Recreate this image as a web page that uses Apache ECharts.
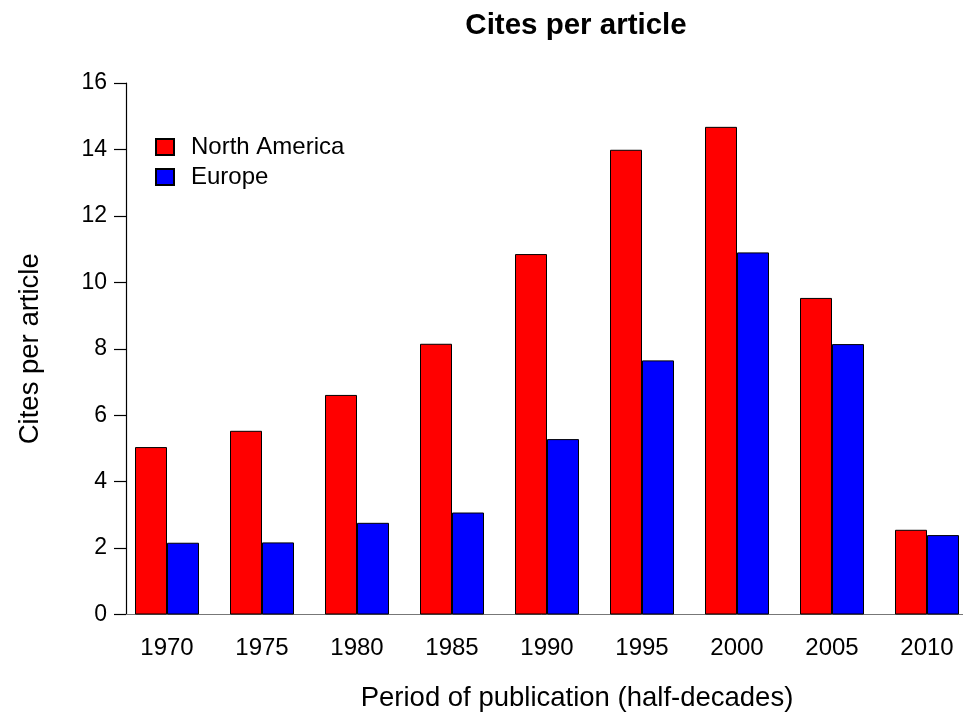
<!DOCTYPE html>
<html>
<head>
<meta charset="utf-8">
<script src="https://cdn.jsdelivr.net/npm/echarts@6/dist/echarts.min.js"></script>
<style>
  body { margin: 0; background: #fff; }
  #chart { width: 963px; height: 718px; }
</style>
</head>
<body>
<div id="chart"></div>
<script>
// half-decades of publication
let periods = ['1970', '1975', '1980', '1985', '1990', '1995', '2000', '2005', '2010']
let northAmerica = [5.04, 5.53, 6.61, 8.15, 10.85, 13.99, 14.68, 9.53, 2.55]
let europe = [2.16, 2.17, 2.76, 3.07, 5.28, 7.65, 10.9, 8.14, 2.39]

let font = 'Liberation Sans, Arial, sans-serif'

let myChart = echarts.init(document.getElementById('chart'))
myChart.setOption({
  animation: false,
  backgroundColor: '#fff',
  title: {
    text: 'Cites per article',
    left: 571,
    top: 6,
    textAlign: 'center',
    textStyle: { fontFamily: font, fontSize: 29.5, fontWeight: 'bold', color: '#000' }
  },
  legend: {
    data: ['North America', 'Europe'],
    orient: 'vertical',
    left: 150,
    top: 130,
    icon: 'rect',
    itemWidth: 18,
    itemHeight: 16,
    itemGap: 6,
    textStyle: { fontFamily: font, fontSize: 24, lineHeight: 24, color: '#000', padding: [0, 0, 0, 12] }
  },
  grid: {
    left: 119.5,
    top: 83,
    width: 855,
    height: 531.5,
    outerBoundsMode: 'none'
  },
  xAxis: {
    type: 'category',
    data: periods,
    boundaryGap: true,
    axisLine: { show: true, lineStyle: { color: '#777', width: 1 } },
    axisTick: { show: false },
    axisLabel: { fontFamily: font, fontSize: 24, color: '#000', margin: 22 },
    name: 'Period of publication (half-decades)',
    nameLocation: 'middle',
    nameGap: 70,
    nameTextStyle: { fontFamily: font, fontSize: 27.5, color: '#000', padding: [0, 0, 0, 60] }
  },
  yAxis: {
    type: 'value',
    min: 0,
    max: 16,
    interval: 2,
    offset: -6.5,
    splitLine: { show: false },
    axisLine: { show: true, lineStyle: { color: '#000', width: 1.2 } },
    axisTick: { show: true, length: 12, lineStyle: { color: '#000', width: 1.2 } },
    axisLabel: { fontFamily: font, fontSize: 23, color: '#000', margin: 19 },
    name: 'Cites per article',
    nameLocation: 'middle',
    nameGap: 82,
    nameTextStyle: { fontFamily: font, fontSize: 27.5, color: '#000' }
  },
  series: [{
    name: 'North America',
    type: 'bar',
    data: northAmerica,
    barWidth: 32,
    barGap: '0%',
    itemStyle: { color: '#ff0000', borderColor: '#000', borderWidth: 1 }
  }, {
    name: 'Europe',
    type: 'bar',
    data: europe,
    barWidth: 32,
    barGap: '0%',
    itemStyle: { color: '#0000ff', borderColor: '#000', borderWidth: 1 }
  }]
})
</script>
</body>
</html>
